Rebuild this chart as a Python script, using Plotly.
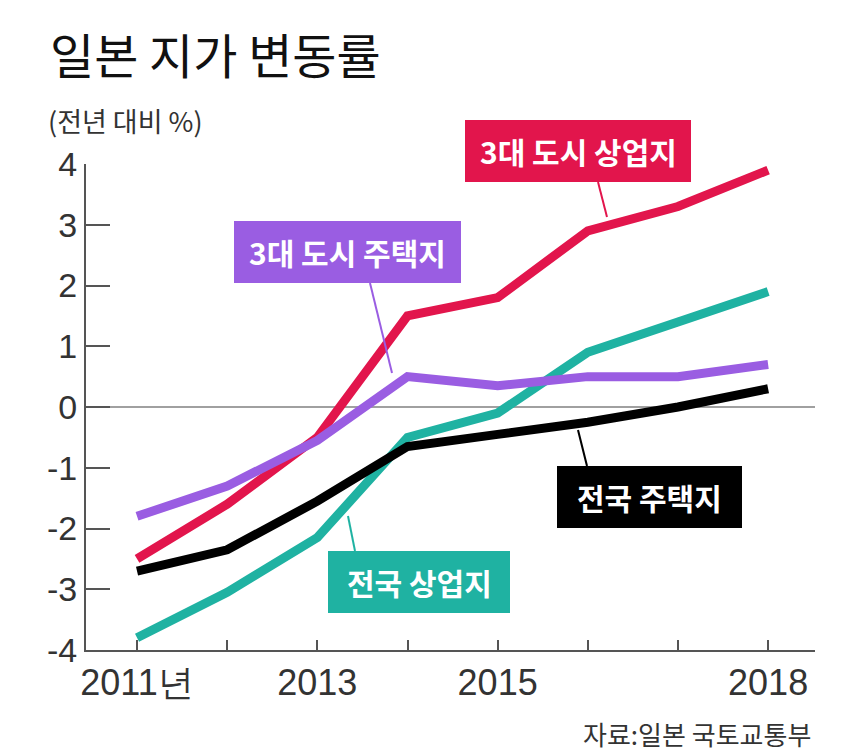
import plotly.graph_objects as go

# ---- data ----
years = [2011, 2012, 2013, 2014, 2015, 2016, 2017, 2018]
city3_commercial = [-2.5, -1.6, -0.5, 1.5, 1.8, 2.9, 3.3, 3.9]      # 3대 도시 상업지
city3_residential = [-1.8, -1.3, -0.55, 0.5, 0.35, 0.5, 0.5, 0.7]   # 3대 도시 주택지
nation_commercial = [-3.8, -3.05, -2.15, -0.5, -0.1, 0.9, 1.4, 1.9] # 전국 상업지
nation_residential = [-2.7, -2.35, -1.55, -0.65, -0.45, -0.25, 0.0, 0.3]  # 전국 주택지

series_names = ["3대 도시 상업지", "3대 도시 주택지", "전국 상업지", "전국 주택지"]
x_tick_vals = years
x_tick_text = ["2011년", "", "2013", "", "2015", "", "", "2018"]
y_tick_vals = [-4, -3, -2, -1, 0, 1, 2, 3, 4]
y_tick_text = ["-4", "-3", "-2", "-1", "0", "1", "2", "3", "4"]

title_text = "일본 지가 변동률"
unit_text = "(전년 대비 %)"
source_text = "자료:일본 국토교통부"

RED = "#e2154c"
PURPLE = "#9a5de2"
TEAL = "#1fb2a2"
BLACK = "#000000"

KFONT = "Noto Sans CJK KR"
NFONT = "Liberation Sans, Arial, sans-serif"

# page body has an 8px margin; figure sized to fit the 850x755 window
OFF = 8
W, H = 850 - OFF, 755 - OFF
PLOT_L, PLOT_R, PLOT_T, PLOT_B = 86, 815, 164, 650   # window pixel frame of plot area
L, R, T, B = PLOT_L - OFF, W - (PLOT_R - OFF), PLOT_T - OFF, H - (PLOT_B - OFF)
PW, PH = PLOT_R - PLOT_L, PLOT_B - PLOT_T
X0, X1 = 2010.434, 2018.52
Y0, Y1 = -4, 4


def px_(x):
    return (x - PLOT_L) / PW


def py_(y):
    return (PLOT_B - y) / PH


fig = go.Figure()

fig.add_trace(go.Scatter(x=years, y=nation_commercial, mode="lines", name=series_names[2],
                         line=dict(color=TEAL, width=9)))
fig.add_trace(go.Scatter(x=years, y=nation_residential, mode="lines", name=series_names[3],
                         line=dict(color=BLACK, width=9)))
fig.add_trace(go.Scatter(x=years, y=city3_commercial, mode="lines", name=series_names[0],
                         line=dict(color=RED, width=9)))
fig.add_trace(go.Scatter(x=years, y=city3_residential, mode="lines", name=series_names[1],
                         line=dict(color=PURPLE, width=9)))

# label boxes: (text, color, left, top, right, bottom, leader from, leader to) in window px
boxes = [
    (series_names[0], RED, 465, 120, 691, 182, (598, 182), (607, 217)),
    (series_names[1], PURPLE, 234, 221, 461, 283, (370, 283), (392, 373)),
    (series_names[3], BLACK, 557, 466, 742, 528, (587, 466), (578, 430)),
    (series_names[2], TEAL, 328, 551, 510, 613, (355, 551), (348, 516)),
]
shapes = []
annotations = []
for text, col, l, t, r, b, p0, p1 in boxes:
    shapes.append(dict(type="line", xref="paper", yref="paper",
                       x0=px_(p0[0]), y0=py_(p0[1]), x1=px_(p1[0]), y1=py_(p1[1]),
                       line=dict(color=col, width=2), layer="above"))
    shapes.append(dict(type="rect", xref="paper", yref="paper",
                       x0=px_(l), y0=py_(t), x1=px_(r), y1=py_(b),
                       fillcolor=col, line=dict(width=0), layer="above"))
    annotations.append(dict(text="<b>" + text + "</b>", xref="paper", yref="paper",
                            x=px_((l + r) / 2), y=py_((t + b) / 2),
                            showarrow=False, xanchor="center", yanchor="middle",
                            font=dict(family=KFONT, size=30, color="white")))

annotations.append(dict(text=title_text, xref="paper", yref="paper",
                        x=px_(48), y=py_(53), xanchor="left", yanchor="middle",
                        showarrow=False, font=dict(family=KFONT, size=48, color="#111111")))
annotations.append(dict(text=unit_text, xref="paper", yref="paper",
                        x=px_(46), y=py_(121), xanchor="left", yanchor="middle",
                        showarrow=False, font=dict(family=KFONT, size=27, color="#333333")))
annotations.append(dict(text=source_text, xref="paper", yref="paper",
                        x=px_(813), y=py_(734), xanchor="right", yanchor="middle",
                        showarrow=False, font=dict(family=KFONT, size=26, color="#333333")))

fig.update_layout(
    width=W, height=H,
    margin=dict(l=L, r=R, t=T, b=B, pad=0),
    paper_bgcolor="white", plot_bgcolor="white",
    showlegend=False,
    shapes=shapes, annotations=annotations,
    xaxis=dict(range=[X0, X1], tickvals=x_tick_vals, ticktext=x_tick_text,
               showgrid=False, zeroline=False, showline=True, linecolor="#555555", linewidth=2,
               ticks="inside", ticklen=10, tickwidth=2, tickcolor="#555555",
               tickfont=dict(family=NFONT, size=36, color="#333333")),
    yaxis=dict(range=[Y0, Y1], tickvals=y_tick_vals, ticktext=y_tick_text,
               showgrid=False, zeroline=True, zerolinecolor="#a0a0a0", zerolinewidth=2,
               showline=True, linecolor="#555555", linewidth=2,
               ticks="inside", ticklen=24, tickwidth=2, tickcolor="#555555",
               tickfont=dict(family=NFONT, size=34, color="#333333")),
)

fig.write_html("out.html")
